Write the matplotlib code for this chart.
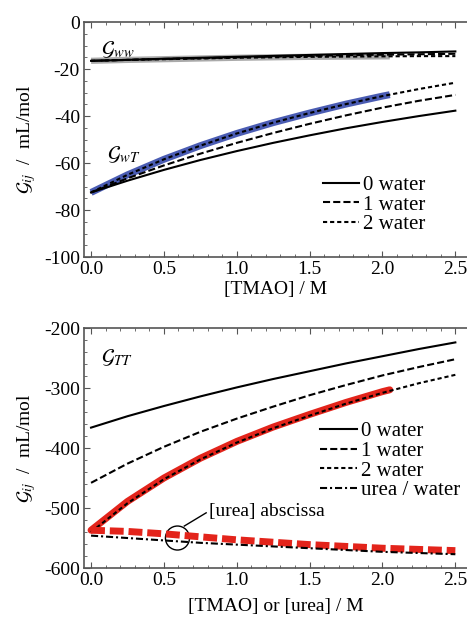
import numpy as np
import matplotlib
matplotlib.use("Agg")
from matplotlib import pyplot as plt
from matplotlib.patches import Ellipse
from matplotlib.ticker import MultipleLocator

# ---- data ----
X = [0.0, 0.25, 0.5, 0.75, 1.0, 1.25, 1.5, 1.75, 2.0, 2.25, 2.5]
X_HI = [0.0, 0.25, 0.5, 0.75, 1.0, 1.25, 1.5, 1.75, 2.0, 2.05]

# top panel: G_ww
WW_0 = [-16.5, -16.1, -15.6, -15.2, -14.8, -14.4, -14.0, -13.6, -13.2, -12.9, -12.5]
WW_1 = [-16.5, -16.1, -15.7, -15.4, -15.0, -14.7, -14.4, -14.1, -13.9, -13.7, -13.5]
WW_2 = [-16.5, -16.1, -15.8, -15.5, -15.2, -15.0, -14.8, -14.7, -14.6, -14.5, -14.5]
WW_HI = [-16.5, -16.1, -15.8, -15.5, -15.2, -15.0, -14.8, -14.7, -14.6, -14.6]

# top panel: G_wT
WT_0 = [-72.5, -67.5, -62.9, -58.7, -54.9, -51.4, -48.2, -45.2, -42.5, -40.0, -37.7]
WT_1 = [-72.5, -66.5, -61.0, -56.0, -51.4, -47.2, -43.3, -39.7, -36.4, -33.5, -31.0]
WT_2 = [-72.5, -65.0, -58.4, -52.6, -47.4, -42.8, -38.7, -34.9, -31.5, -28.5, -25.8]
WT_HI = [-72.5, -65.0, -58.4, -52.6, -47.4, -42.8, -38.7, -34.9, -31.5, -30.9]

# bottom panel: G_TT
TT_0 = [-366, -347, -330, -314, -299, -285, -272, -259, -247, -235, -224]
TT_1 = [-458, -426, -398, -373, -351, -331, -312, -295, -279, -265, -252]
TT_2 = [-540, -492, -452, -419, -391, -367, -346, -326, -308, -292, -278]
TT_HI = [-537, -489, -450, -417, -389, -365, -344, -324, -306, -303]
UREA_RED = [-537, -539, -543, -548, -553, -557, -561, -564, -567, -569, -571]
UREA_WATER = [-546, -550, -554, -558, -561, -564, -567, -570, -573, -575, -577]

plt.rcParams['font.family'] = ['Liberation Serif', 'DejaVu Serif']
plt.rcParams['mathtext.fontset'] = 'stix'

DASHED = (0, (3.4, 1.5))
DOTTED = (0, (2.0, 1.4))
DASHDOT = (0, (3.4, 1.4, 1.0, 1.4))
LW = 1.5
SPINE = '#555555'


def style_axes(ax, ymin, ymax, ymaj, ymin_step):
    ax.set_xlim(-0.048, 2.58)
    ax.set_ylim(ymin, ymax)
    ax.xaxis.set_major_locator(MultipleLocator(0.5))
    ax.xaxis.set_minor_locator(MultipleLocator(0.1))
    ax.yaxis.set_major_locator(MultipleLocator(ymaj))
    ax.yaxis.set_minor_locator(MultipleLocator(ymin_step))
    ax.xaxis.set_major_formatter(plt.FuncFormatter(lambda v, p: f'{v:.1f}'))
    ax.yaxis.set_major_formatter(plt.FuncFormatter(lambda v, p: f'{v:.0f}'))
    ax.tick_params(which='both', direction='in', top=True, right=False,
                   color=SPINE, labelsize=14, pad=3)
    ax.tick_params(which='major', length=4)
    ax.tick_params(which='minor', length=2)
    for s in ['left', 'top', 'bottom']:
        ax.spines[s].set_color(SPINE)
        ax.spines[s].set_linewidth(1.2)
    ax.spines['right'].set_visible(False)


fig = plt.figure(figsize=(4.67, 6.21), dpi=100)
ax1 = fig.add_axes([0.180, 0.586, 0.82, 0.3785])
ax2 = fig.add_axes([0.180, 0.0853, 0.82, 0.3865])

# ---- top panel ----
ax1.plot(X_HI, WW_HI, color='#aaaaaa', lw=4.5, solid_capstyle='butt')
ax1.plot(X, WW_0, color='black', lw=LW)
ax1.plot(X, WW_1, color='black', lw=LW, ls=DASHED)
ax1.plot(X, WW_2, color='black', lw=LW, ls=DOTTED)

ax1.plot(X_HI, WT_HI, color='#4a5cb3', lw=5, solid_capstyle='butt')
ax1.plot(X, WT_0, color='black', lw=LW, label='0 water')
ax1.plot(X, WT_1, color='black', lw=LW, ls=DASHED, label='1 water')
ax1.plot(X, WT_2, color='black', lw=LW, ls=DOTTED, label='2 water')

ax1.text(0.07, -12.0, r'$\mathcal{G}_{ww}$', fontsize=15, va='center')
ax1.text(0.11, -56.5, r'$\mathcal{G}_{wT}$', fontsize=15, va='center')
style_axes(ax1, -100, 0, 20, 5)
ax1.set_xlabel('[TMAO] / M', fontsize=14, labelpad=2)
ax1.set_ylabel(r'$\mathcal{G}_{ij}$  /  mL/mol', fontsize=14, labelpad=4)
ax1.legend(loc='lower right', bbox_to_anchor=(0.93, 0.035), frameon=False,
           fontsize=15, handlelength=1.75, handletextpad=0.2, labelspacing=0.0,
           borderpad=0.2)

# ---- bottom panel ----
ax2.plot(X, TT_0, color='black', lw=LW, label='0 water')
ax2.plot(X, TT_1, color='black', lw=LW, ls=DASHED, label='1 water')
ax2.plot(X_HI, TT_HI, color='#e3241b', lw=5, solid_capstyle='round')
ax2.plot(X, TT_2, color='black', lw=LW, ls=DOTTED, label='2 water')
ax2.plot(X, UREA_RED, color='#e3241b', lw=5, ls=(0, (2.0, 0.7)),
         dash_capstyle='butt')
ax2.plot(X, UREA_WATER, color='black', lw=LW, ls=DASHDOT, label='urea / water')

ax2.text(0.07, -250, r'$\mathcal{G}_{TT}$', fontsize=15, va='center')
ax2.add_patch(Ellipse((0.593, -550), width=0.165, height=40, fill=False,
                      color='black', lw=1.0))
ax2.plot([0.64, 0.79], [-530, -508], color='black', lw=1.0)
ax2.text(0.81, -505, '[urea] abscissa', fontsize=14, va='center', ha='left')

style_axes(ax2, -600, -200, 100, 20)
ax2.set_xlabel('[TMAO] or [urea] / M', fontsize=14, labelpad=6)
ax2.set_ylabel(r'$\mathcal{G}_{ij}$  /  mL/mol', fontsize=14, labelpad=4)
ax2.legend(loc='upper right', bbox_to_anchor=(1.02, 0.67), frameon=False,
           fontsize=15, handlelength=1.75, handletextpad=0.2, labelspacing=0.0,
           borderpad=0.2)

fig.savefig('out.png', dpi=100)
